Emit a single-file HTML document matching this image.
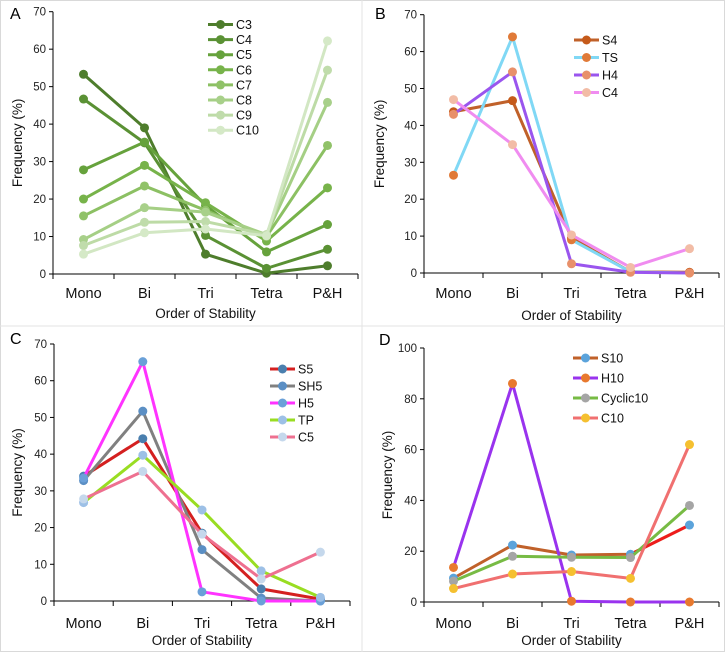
<!DOCTYPE html>
<html><head><meta charset="utf-8">
<style>
html,body{margin:0;padding:0;background:#fff;}
svg{display:block;font-family:"Liberation Sans",sans-serif;}
</style></head>
<body>
<svg id="fig" width="725" height="652" viewBox="0 0 725 652">
<rect x="0.5" y="0.5" width="724" height="651" fill="#fff" stroke="#d9d9d9"/>
<line x1="362" y1="0" x2="362" y2="652" stroke="#e3e3e3"/>
<line x1="0" y1="326" x2="725" y2="326" stroke="#e3e3e3"/>
</svg>
<script>
const categories = ["Mono","Bi","Tri","Tetra","P&H"];

const seriesA_names = ["C3","C4","C5","C6","C7","C8","C9","C10"];
const seriesA_C3  = [53.3, 39, 5.3, 0.2, 2.2];
const seriesA_C4  = [46.7, 35, 10.3, 1.5, 6.6];
const seriesA_C5  = [27.8, 35.2, 18.3, 5.9, 13.2];
const seriesA_C6  = [20, 29, 19, 8.8, 23];
const seriesA_C7  = [15.5, 23.5, 17, 10, 34.3];
const seriesA_C8  = [9.2, 17.7, 16.5, 10.5, 45.8];
const seriesA_C9  = [7.6, 13.8, 14, 10.5, 54.4];
const seriesA_C10 = [5.3, 11, 12, 10.2, 62.2];

const seriesB_names = ["S4","TS","H4","C4"];
const seriesB_S4 = [43.7, 46.7, 9.5, 0.3, 0.2];
const seriesB_TS = [26.5, 64, 9, 0.3, 0];
const seriesB_H4 = [43, 54.5, 2.5, 0.2, 0];
const seriesB_C4 = [47, 34.8, 10.3, 1.5, 6.6];

const seriesC_names = ["S5","SH5","H5","TP","C5"];
const seriesC_S5  = [34, 44.2, 18.5, 3.3, 0.5];
const seriesC_SH5 = [32.8, 51.7, 14, 0.8, 0];
const seriesC_H5  = [33.5, 65.2, 2.5, 0, 0];
const seriesC_TP  = [26.8, 39.7, 24.8, 8.2, 1];
const seriesC_C5  = [27.8, 35.3, 18.2, 6, 13.3];

const seriesD_names = ["S10","H10","Cyclic10","C10"];
const seriesD_S10 = [9.4, 22.4, 18.5, 18.8, 30.3];
const seriesD_H10 = [13.6, 86, 0.3, 0, 0];
const seriesD_Cyclic10 = [8.2, 18, 17.6, 17.5, 38];
const seriesD_C10 = [5.3, 11, 12, 9.3, 62];

const ticksA = [0,10,20,30,40,50,60,70];
const ticksD = [0,20,40,60,80,100];

const NS = "http://www.w3.org/2000/svg";
const svg = document.getElementById("fig");
function el(tag, attrs, parent){
  const e = document.createElementNS(NS, tag);
  for (const k in attrs) e.setAttribute(k, attrs[k]);
  (parent||svg).appendChild(e);
  return e;
}

function panel(cfg){
  const g = el("g", {});
  
  
  const ymax = cfg.ticks[cfg.ticks.length-1];
  const yS = v => cfg.y0 - (v/ymax)*(cfg.y0-cfg.yTop);
  const cw = (cfg.x1-cfg.x0)/categories.length;
  const xS = i => cfg.x0 + cw*(i+0.5);

  const lt = el("text", {x:cfg.letterX, y:cfg.letterY, "font-size":16, fill:"#000"}, g);
  lt.textContent = cfg.letter;
  
  

  const ya = el("line", {x1:cfg.x0, y1:cfg.yTop, x2:cfg.x0, y2:cfg.y0, stroke:"#000", "stroke-width":1}, g);
  
  
  cfg.ticks.forEach(t=>{
    const y = yS(t);
    el("line", {x1:cfg.x0-4, y1:y, x2:cfg.x0, y2:y, stroke:"#000"}, g);
    const tx = el("text", {x:cfg.x0-7, y:y+4, "font-size":11.5, "text-anchor":"end", fill:"#222"}, g);
    tx.textContent = t;
    
    
  });
  const xa = el("line", {x1:cfg.x0, y1:cfg.y0, x2:cfg.x1, y2:cfg.y0, stroke:"#000"}, g);
  
  
  for (let i=0;i<=categories.length;i++){
    const x = cfg.x0 + cw*i;
    el("line", {x1:x, y1:cfg.y0, x2:x, y2:cfg.y0+5, stroke:"#000"}, g);
  }
  categories.forEach((c,i)=>{
    const tx = el("text", {x:xS(i), y:cfg.catY, "font-size":14.5, "text-anchor":"middle", fill:"#111"}, g);
    tx.textContent = c;
    
    
  });
  const xt = el("text", {x:(cfg.x0+cfg.x1)/2, y:cfg.titleY, "font-size":13.5, "text-anchor":"middle", fill:"#111"}, g);
  xt.textContent = "Order of Stability";
  
  
  const ycy = (cfg.yTop+cfg.y0)/2;
  const yt = el("text", {x:cfg.ytX, y:ycy, "font-size":13.5, "text-anchor":"middle", fill:"#111", transform:`rotate(-90 ${cfg.ytX} ${ycy})`}, g);
  yt.textContent = "Frequency (%)";
  
  

  cfg.series.forEach((s,si)=>{
    const sg = el("g", {}, g);
    
    
    const pts = s.data.map((v,i)=>xS(i)+","+yS(v)).join(" ");
    el("polyline", {points:pts, fill:"none", stroke:s.line, "stroke-width":3, "stroke-linejoin":"round"}, sg);
    if (s.lastSeg) {
      const n = s.data.length;
      el("line", {x1:xS(n-2), y1:yS(s.data[n-2]), x2:xS(n-1), y2:yS(s.data[n-1]), stroke:s.lastSeg, "stroke-width":3}, sg);
    }
    s.data.forEach((v,i)=>{
      const c = el("circle", {cx:xS(i), cy:yS(v), r:4.5, fill:s.mark}, sg);
      
      
    });
    const ly = cfg.legY + si*cfg.legDy;
    const lg = el("g", {}, g);
    
    
    el("line", {x1:cfg.legX, y1:ly, x2:cfg.legX+25, y2:ly, stroke:s.line, "stroke-width":3}, lg);
    el("circle", {cx:cfg.legX+12.5, cy:ly, r:4.5, fill:s.mark}, lg);
    const lt2 = el("text", {x:cfg.legX+28, y:ly+4.5, "font-size":12.5, fill:"#111"}, lg);
    lt2.textContent = s.name;
  });
}

const greensLine = ["#4e7d2c","#5a9134","#66a23c","#77b34a","#8cc063","#a5cf85","#bddba6","#d2e7c3"];
const greensMark = ["#4e7d2c","#5a9134","#66a23c","#77b34a","#90c268","#a8d08a","#c0dcab","#d5e9c7"];
const dataA = [seriesA_C3,seriesA_C4,seriesA_C5,seriesA_C6,seriesA_C7,seriesA_C8,seriesA_C9,seriesA_C10];

panel({letter:"A", letterX:10, letterY:19, x0:53, x1:358, y0:274, yTop:11.7, ticks:ticksA,
  catY:298, titleY:318, ytX:22, legX:208, legY:24.5, legDy:15.1,
  series: seriesA_names.map((n,i)=>({name:n, data:dataA[i], line:greensLine[i], mark:greensMark[i]}))});

panel({letter:"B", letterX:375, letterY:19, x0:424, x1:719, y0:273, yTop:14.7, ticks:ticksA,
  catY:298, titleY:320, ytX:384, legX:574, legY:40, legDy:17.5,
  series:[
    {name:seriesB_names[0], data:seriesB_S4, line:"#c0612a", mark:"#c55a1a"},
    {name:seriesB_names[1], data:seriesB_TS, line:"#80d8f5", mark:"#e07a38"},
    {name:seriesB_names[2], data:seriesB_H4, line:"#9a55ee", mark:"#e8906a"},
    {name:seriesB_names[3], data:seriesB_C4, line:"#f08cf0", mark:"#f2bca6"}
  ]});

panel({letter:"C", letterX:10, letterY:344, x0:54, x1:350, y0:601, yTop:344, ticks:ticksA,
  catY:628, titleY:645, ytX:22, legX:270, legY:369, legDy:17,
  series:[
    {name:seriesC_names[0], data:seriesC_S5, line:"#d42020", mark:"#4a7fae"},
    {name:seriesC_names[1], data:seriesC_SH5, line:"#808080", mark:"#5b8fc4"},
    {name:seriesC_names[2], data:seriesC_H5, line:"#ff33ff", mark:"#6aa0d8"},
    {name:seriesC_names[3], data:seriesC_TP, line:"#99dd22", mark:"#9dc0e6"},
    {name:seriesC_names[4], data:seriesC_C5, line:"#ee7090", mark:"#c5d8ec"}
  ]});

panel({letter:"D", letterX:379, letterY:345, x0:424, x1:719, y0:602, yTop:348, ticks:ticksD,
  catY:628, titleY:645, ytX:392, legX:573, legY:358, legDy:20,
  series:[
    {name:seriesD_names[0], data:seriesD_S10, line:"#c0612a", mark:"#5ba3db", lastSeg:"#ee1c1c"},
    {name:seriesD_names[1], data:seriesD_H10, line:"#9933ee", mark:"#e8792e"},
    {name:seriesD_names[2], data:seriesD_Cyclic10, line:"#77bb44", mark:"#a5a5a5"},
    {name:seriesD_names[3], data:seriesD_C10, line:"#f07070", mark:"#f5c030"}
  ]});
</script>
</body></html>
